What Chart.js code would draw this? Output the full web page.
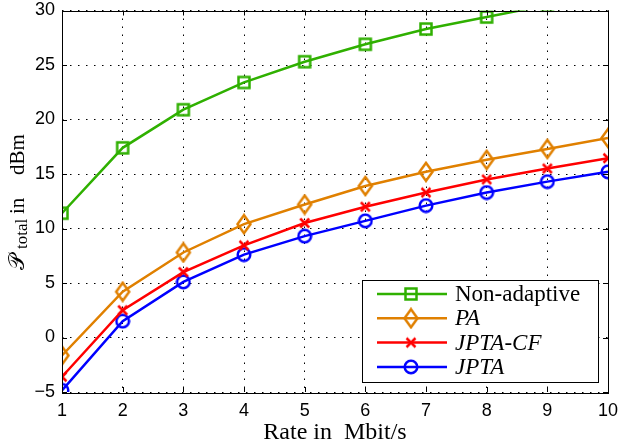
<!DOCTYPE html>
<html>
<head>
<meta charset="utf-8">
<script src="https://cdn.jsdelivr.net/npm/chart.js@4/dist/chart.umd.min.js"></script>
<style>
  html, body { margin: 0; padding: 0; background: #fff; }
  #wrap { width: 619px; height: 447px; }
</style>
</head>
<body>
<div id="wrap"><canvas id="myChart" width="619" height="447"></canvas></div>
<script>
// data
const rates = [1, 2, 3, 4, 5, 6, 7, 8, 9, 10];
const nonAdaptive = [11.4, 17.4, 20.9, 23.4, 25.3, 26.9, 28.3, 29.4, 30.5, 31.5];
const pa = [-1.65, 4.2, 7.8, 10.4, 12.2, 13.9, 15.2, 16.3, 17.3, 18.3];
const jptaCF = [-3.6, 2.5, 6.0, 8.45, 10.5, 12.0, 13.3, 14.5, 15.5, 16.45];
const jpta = [-4.85, 1.5, 5.1, 7.6, 9.3, 10.7, 12.1, 13.3, 14.3, 15.2];
const xTicks = [1, 2, 3, 4, 5, 6, 7, 8, 9, 10];
const yTicks = [-5, 0, 5, 10, 15, 20, 25, 30];

const GREEN = '#2fb000';
const ORANGE = '#e08000';
const RED = '#ff0000';
const BLUE = '#0000ff';
const LW = 2.5;

// marker images (unfilled, matlab style)
function makeMarker(kind, color) {
    const c = document.createElement('canvas');
    const w = kind === 'diamond' ? 18 : 16;
    const h = kind === 'diamond' ? 22 : 16;
    c.width = w; c.height = h;
    const g = c.getContext('2d');
    g.strokeStyle = color;
    g.lineWidth = LW;
    g.beginPath();
    if (kind === 'square') {
        g.rect(2.5, 2.5, 11, 11);
    } else if (kind === 'diamond') {
        g.moveTo(9, 2); g.lineTo(15.5, 11); g.lineTo(9, 20); g.lineTo(2.5, 11); g.closePath();
    } else if (kind === 'cross') {
        g.moveTo(3.5, 3.5); g.lineTo(12.5, 12.5);
        g.moveTo(12.5, 3.5); g.lineTo(3.5, 12.5);
    } else {
        g.arc(8, 8, 6.3, 0, Math.PI * 2);
    }
    g.stroke();
    return c;
}

const markers = {
    square: makeMarker('square', GREEN),
    diamond: makeMarker('diamond', ORANGE),
    cross: makeMarker('cross', RED),
    circle: makeMarker('circle', BLUE)
};

const series = [
    { label: 'Non-adaptive', data: nonAdaptive, color: GREEN, marker: markers.square, italic: false },
    { label: 'PA', data: pa, color: ORANGE, marker: markers.diamond, italic: true },
    { label: 'JPTA-CF', data: jptaCF, color: RED, marker: markers.cross, italic: true },
    { label: 'JPTA', data: jpta, color: BLUE, marker: markers.circle, italic: true }
];

// frame, inner ticks, legend, y title
const decorations = {
    id: 'decorations',
    afterDraw(chart) {
        const ctx = chart.ctx;
        const a = chart.chartArea;
        const xs = chart.scales.x;
        const ys = chart.scales.y;
        ctx.save();
        ctx.strokeStyle = '#000';
        ctx.lineWidth = 1;
        ctx.beginPath();
        xTicks.forEach(v => {
            const px = Math.round(xs.getPixelForValue(v)) + 0.5;
            ctx.moveTo(px, a.bottom); ctx.lineTo(px, a.bottom - 5);
            ctx.moveTo(px, a.top); ctx.lineTo(px, a.top + 5);
        });
        yTicks.forEach(v => {
            const py = Math.round(ys.getPixelForValue(v)) + 0.5;
            ctx.moveTo(a.left, py); ctx.lineTo(a.left + 5, py);
            ctx.moveTo(a.right, py); ctx.lineTo(a.right - 5, py);
        });
        ctx.stroke();
        ctx.strokeRect(Math.round(a.left) + 0.5, Math.round(a.top) + 0.5,
            Math.round(a.right - a.left), Math.round(a.bottom - a.top));

        // legend
        const bx = 362, by = 280, bw = 236, bh = 102;
        ctx.fillStyle = '#fff';
        ctx.fillRect(bx, by, bw, bh);
        ctx.strokeRect(bx + 0.5, by + 0.5, bw, bh);
        series.forEach((s, i) => {
            const ry = 294 + i * 24.3;
            ctx.strokeStyle = s.color;
            ctx.lineWidth = LW;
            ctx.beginPath();
            ctx.moveTo(377, ry); ctx.lineTo(447, ry);
            ctx.stroke();
            ctx.drawImage(s.marker, 411 - s.marker.width / 2, ry - s.marker.height / 2);
            ctx.fillStyle = '#000';
            ctx.font = (s.italic ? 'italic ' : '') + '23px "Liberation Serif"';
            ctx.textBaseline = 'middle';
            ctx.textAlign = 'left';
            ctx.fillText(s.label, 455, ry + 1);
        });

        // y axis title: P_total in dBm, read bottom to top
        ctx.translate(24, 270);
        ctx.rotate(-Math.PI / 2);
        ctx.fillStyle = '#000';
        ctx.textBaseline = 'alphabetic';
        ctx.textAlign = 'left';
        ctx.font = '22px "DejaVu Serif"';
        ctx.fillText('\u{1D4AB}', 0, 0);
        ctx.font = '17px "Liberation Serif"';
        ctx.fillText('total', 21, 3);
        ctx.font = '21px "Liberation Serif"';
        ctx.fillText('in', 56, 0);
        ctx.fillText('dBm', 95, 0);
        ctx.restore();
    }
};

const ctx = document.getElementById('myChart').getContext('2d');
const myChart = new Chart(ctx, {
    type: 'line',
    data: {
        datasets: series.map(s => ({
            label: s.label,
            data: rates.map((r, i) => ({ x: r, y: s.data[i] })),
            borderColor: s.color,
            borderWidth: LW,
            pointStyle: s.marker,
            pointRadius: 8,
            pointHoverRadius: 8,
            tension: 0,
            fill: false
        }))
    },
    options: {
        responsive: false,
        animation: false,
        events: [],
        layout: { padding: { top: 10, right: 11, left: 0, bottom: 0 } },
        plugins: {
            legend: { display: false },
            tooltip: { enabled: false }
        },
        scales: {
            x: {
                type: 'linear',
                min: 1,
                max: 10,
                afterBuildTicks: scale => { scale.ticks = xTicks.map(v => ({ value: v })); },
                afterFit: scale => {
                    scale.height = 55;
                    scale.paddingLeft = 0;
                    scale.paddingRight = 0;
                },
                border: { display: false, dash: [1.5, 6.5] },
                grid: { color: '#000', lineWidth: 1, drawTicks: false },
                ticks: {
                    color: '#000',
                    padding: 8,
                    maxRotation: 0,
                    font: { family: '"Liberation Sans", Arial, sans-serif', size: 18 }
                },
                title: {
                    display: true,
                    text: 'Rate in  Mbit/s',
                    color: '#000',
                    padding: { top: 0, bottom: 0 },
                    font: { family: '"Liberation Serif", serif', size: 24 }
                }
            },
            y: {
                type: 'linear',
                min: -5,
                max: 30,
                afterBuildTicks: scale => { scale.ticks = yTicks.map(v => ({ value: v })); },
                afterFit: scale => {
                    scale.width = 62;
                    scale.paddingTop = 0;
                    scale.paddingBottom = 0;
                },
                border: { display: false, dash: [1.5, 6.5] },
                grid: { color: '#000', lineWidth: 1, drawTicks: false },
                ticks: {
                    color: '#000',
                    padding: 7,
                    callback: v => String(v).replace('-', '\u2212'),
                    font: { family: '"Liberation Sans", Arial, sans-serif', size: 18 }
                }
            }
        }
    },
    plugins: [decorations]
});
</script>
</body>
</html>
